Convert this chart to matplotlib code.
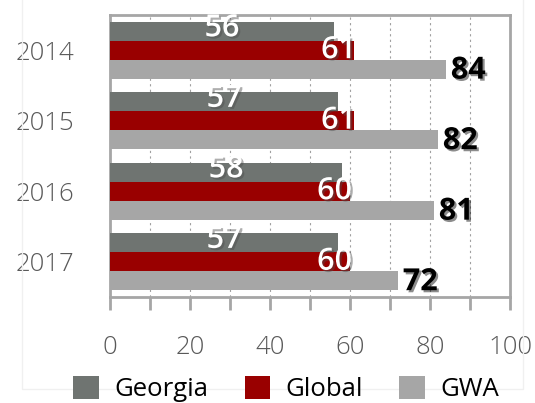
import matplotlib
matplotlib.use("Agg")
import matplotlib.pyplot as plt
import matplotlib.patheffects as pe
from matplotlib.patches import Rectangle
import numpy as np

years = ["2014", "2015", "2016", "2017"]
georgia = [56, 57, 58, 57]
global_ = [61, 61, 60, 60]
gwa = [84, 82, 81, 72]

C_GEO = "#6f7471"
C_GLO = "#990000"
C_GWA = "#a6a6a6"

plt.rcParams["font.family"] = ["Open Sans", "DejaVu Sans"]

fig = plt.figure(figsize=(5.35, 4.03), dpi=100)
ax = fig.add_axes([0.2056, 0.263, 0.7477, 0.7])

# faint chart-area border
fig.patches.append(Rectangle((22 / 535, 1 - 389 / 403), (523 - 22) / 535, 389 / 403 + 0.05,
                             transform=fig.transFigure, fill=False,
                             edgecolor="#f0f0f0", lw=1, zorder=0))

y = np.arange(len(years))
h = 0.27
ax.barh(y - h, georgia, h, color=C_GEO, label="Georgia", zorder=3)
ax.barh(y, global_, h, color=C_GLO, label="Global", zorder=3)
ax.barh(y + h, gwa, h, color=C_GWA, label="GWA", zorder=3)

shadow = [pe.SimplePatchShadow(offset=(1.5, -1.5), alpha=0.45), pe.Normal()]
for i in range(len(years)):
    ax.text(georgia[i] / 2, y[i] - h - 0.04, str(georgia[i]), color="white",
            fontsize=22, fontweight="semibold", ha="center", va="center",
            path_effects=shadow, zorder=5)
    ax.text(global_[i] + 0.5, y[i] + 0.0, str(global_[i]), color="white",
            fontsize=22, fontweight="semibold", ha="right", va="center",
            path_effects=shadow, zorder=5)
    ax.text(gwa[i] + 1.2, y[i] + h + 0.02, str(gwa[i]), color="black",
            fontsize=22, fontweight="bold", ha="left", va="center",
            path_effects=shadow, zorder=5)

ax.set_xlim(0, 100)
ax.set_ylim(len(years) - 0.5, -0.5)
ax.set_yticks(y)
ax.set_yticklabels(years, fontweight="light")
ax.set_xticks(np.arange(0, 101, 20))
ax.set_xticks(np.arange(0, 101, 10), minor=True)
ax.set_xticklabels([str(v) for v in range(0, 101, 20)], fontweight="light")
ax.tick_params(axis="y", length=0, pad=26, labelsize=18.5, labelcolor="#595959")
ax.tick_params(axis="x", which="both", direction="out", length=9, width=2,
               color="#a6a6a6", pad=18, labelsize=18.5, labelcolor="#595959")
ax.grid(axis="x", which="both", linestyle=(0, (2, 3)), color="#a0a0a0", lw=0.8, zorder=1)
for s in ax.spines.values():
    s.set_color("#a6a6a6")
    s.set_linewidth(2)

fig.legend(loc="center", bbox_to_anchor=(0.535, 0.034), ncol=3, frameon=False,
           fontsize=18.5, handlelength=1.0, handleheight=1.0, handletextpad=0.6,
           columnspacing=1.4)

fig.savefig("out.png", dpi=100)
